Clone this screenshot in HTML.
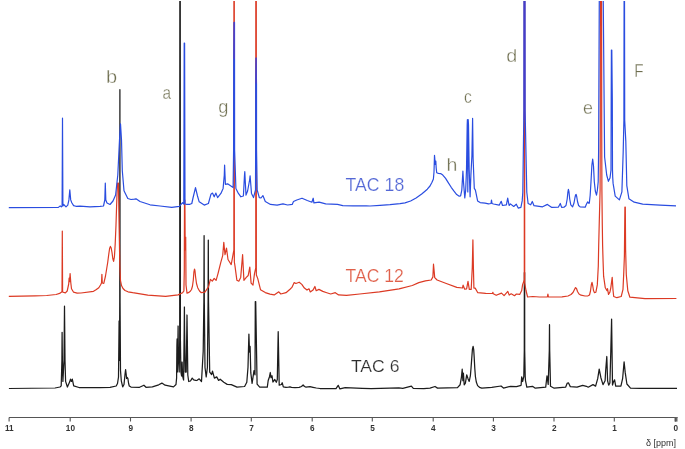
<!DOCTYPE html>
<html><head><meta charset="utf-8"><style>
html,body{margin:0;padding:0;background:#fff;}
body{width:685px;height:449px;overflow:hidden;}
svg{display:block;will-change:transform;}
text{font-family:"Liberation Sans",sans-serif;}
</style></head><body>
<svg width="685" height="449" viewBox="0 0 685 449">
<rect width="685" height="449" fill="#fff"/>
<defs><clipPath id="cp"><rect x="0" y="1" width="685" height="448"/></clipPath></defs>
<g fill="none" stroke-linejoin="round" stroke-linecap="butt" clip-path="url(#cp)">
<polyline points="8.9,388.5 55,388 60,387 61.2,385.9 61.9,360.5 62.1,332.3 62.4,360.5 62.9,381.4 64,360.5 64.5,306.2 65,360.5 65.6,381.4 67.4,387 69.6,382.1 70.5,379.2 71.4,381.4 72.3,379.2 73.7,385.9 79,387.5 100,387.5 110,387.3 116.2,386 117.5,383.5 118.5,377 118.9,340.5 119.1,321 119.3,340.5 119.5,360.5 119.75,300.5 119.9,89.7 120.05,300.5 120.5,370.5 121.3,380.8 122.7,386.9 124,384.5 125,374.5 125.6,369.6 126.2,374.5 126.6,378.5 127.3,377.5 127.9,378.5 128.6,383.5 129.3,386 131,387.1 139.6,387.3 143.9,385.2 146,387.3 152.4,386.9 158.7,384.8 161.9,383.1 165.1,385.2 173.5,386.9 176,384.5 176.6,378 176.9,345.5 177.1,339 177.4,372 177.8,350 178.1,326 178.4,355 179.2,372 179.7,340 179.85,-5 180.25,-5 180.4,340 180.9,372 181.6,376 182.1,362 182.6,376 183.6,380 184.2,330 184.4,307 184.6,330 185.3,372 186.2,372 186.8,330 187,315 187.2,330 187.8,375 188.7,381.5 190.5,381 192.2,378.1 193.7,379.9 195.7,380.4 196.8,380.5 199.2,378.8 201.5,381.5 203.2,351.2 203.9,300.5 204.1,235.5 204.3,300.5 205,367.5 206.2,376.9 207.4,367.5 208.1,300.5 208.3,240.1 208.5,300.5 209.7,372.2 211.6,374.5 212.5,371.1 214.4,378.1 216.7,376.9 218.6,380.4 220.2,379.2 223.8,382.3 227.2,384.4 231.3,384.6 237,387.1 244.6,386.5 246.8,382.3 248,367.2 248.9,334.1 249.5,352.1 250.1,346.4 250.8,372.9 252.1,383.3 253.1,376.7 254,370.6 255,374.8 255.3,301.5 255.7,301.5 257.1,384.2 259.7,387.1 267.3,387.1 268.2,380.5 269.5,376.7 270.3,372.5 271,377.6 272,375.7 272.9,382 274.8,379.5 276.3,382.3 277.3,379.5 278.2,331.7 279.2,385.2 281.4,384.5 282.2,382.7 283.3,386.8 286,387.4 288.5,387.1 290,386.8 291.5,387.4 295,387.6 299.2,387.4 301.5,386.5 303.1,385 304.5,386.5 306,387.1 310,386.7 313,387.3 316.3,388 320,388.5 336,388.6 338.2,385.3 339.9,388.9 345.2,387.6 362.3,388.3 371.3,388.6 398.9,387.9 402.8,388.3 411.4,386.2 413.3,388.3 423.8,388.6 430,388.1 435,386.5 437.5,388.1 457.5,387.6 460.1,384.8 461.4,377.3 462.2,369.2 462.9,380.6 463.4,373.1 464.2,384.8 465.4,383.1 466.7,374.8 468.1,378.9 469.2,381.4 470.4,375.6 471,368.5 471.7,358.9 472.4,349.5 473.1,346.4 473.7,349.5 474.2,357.5 474.8,368.5 475.4,376.5 476.3,382 477.6,385.6 479.5,387.3 481.8,388.1 491.8,387.3 501,386 503.5,388.1 510.7,386.3 516.4,386.6 521.1,385.3 521.7,376.8 522.6,381.5 523.8,376.5 524.3,350.5 524.35,272.5 524.65,272.5 524.7,350.5 525.2,376.5 525.5,380.6 526.8,387.2 532.5,386.3 535.3,388.2 545.7,387.2 547,375.8 548.2,384.4 549.3,350.5 549.5,324.7 549.7,350.5 550.5,386.3 554.2,388.2 565.6,387.2 567.1,383.4 568.4,382.8 570.3,386.6 577,387.2 582.7,385.3 586.4,386.3 588.2,387.2 593,384.6 595.6,386.1 597.7,378.7 599.2,369.2 600.9,377.7 603,384.6 605.1,380.8 605.7,370.3 606.8,356.5 607.6,380.8 608.7,385.1 609.9,383 610.8,351.2 611.6,319.1 612.5,385.1 613.5,381.9 614.6,379.8 615.7,386.1 620.9,386.1 622.6,378.7 624.1,361.8 625.2,372.4 626.9,384 630.5,388.1 640,388.4 677,388.4" stroke="#1c1c1c" stroke-width="1.25"/>
<polyline points="8.8,296.3 35,295.9 46.7,295.5 56.1,294.5 59.6,293.4 61.3,292.2 62,292 62.3,231 62.6,292 63.7,292.4 65.4,292.8 67.2,291 68.7,284 69.1,278.2 69.6,281.7 70.1,273.5 70.8,282.8 71.5,288.7 73.6,292.2 77.1,293.1 81,293 93.5,291.3 96,289.8 98.8,287.7 100.5,285 101.5,283 101.9,274.4 102.3,283 103.8,283.3 105.5,276 106.8,268 107.7,262.5 108.8,254 109.6,248.5 110.4,246.4 111.2,248 112,252.5 112.8,258.5 113.6,261.4 114.4,257 115.2,244 116,225 116.8,200 117.4,183 118.4,183 119.2,230 119.8,265 120.5,280.6 121.5,285.5 123,288.5 125,290.5 128,291.8 132.7,292.7 147.8,295.2 165.6,296.3 178.1,294.9 182.6,292.7 183.9,291 184.3,270 184.5,200 184.9,200 185.2,250 185.4,237 185.7,237 186,285 187,293.1 189,292.4 190.5,291 191.5,289.5 192.5,286 193.3,280 193.9,272 194.5,269 195,271 195.6,277 196.5,283.5 197.7,287.7 199.5,291 201.3,292.7 204.9,292.2 208.5,286.9 210.4,279.3 212.3,281.2 214.2,278.4 216.1,280.3 218,273.6 220.8,262.3 222.7,255.7 223.8,242.4 225,254.7 226.5,248.1 228,259.5 231.2,264.6 232.5,257.6 233.85,250 233.9,-5 234.3,-5 234.35,262 235,266.1 236.9,280.3 238.8,281.2 240.7,277.4 242.6,254.7 243.9,280.3 246.3,277.4 248.2,275.5 249.8,267 251.1,283.1 253,285 254.5,273.6 255.75,268 255.8,-5 256.3,-5 256.35,275 257.7,278.4 260.5,289.7 265.3,292.6 270,294.1 274.2,294.9 278.8,291.8 280.8,294 286,292.7 290,289.2 291.9,287.4 294.2,282.6 295.9,283.5 299.2,282.2 301.8,284.4 304.4,288.1 307,290.1 309,288.8 310.3,292 313,290.1 314.9,286.5 316.2,290.7 318.9,289.4 322.8,291.4 326.8,292.7 330.7,294 335.3,292.7 338.6,294.9 346.5,295.3 359.7,294 379.4,291.8 399.1,288.8 412.3,285.5 418.8,282.6 425.4,280.9 431.2,280 432.9,276.9 433.5,264.2 434.2,271.7 434.7,277.6 437.1,280 446.3,283.5 456.8,287.4 462.5,288 463.1,285.2 464.7,289.2 466.6,288.8 468,281.3 469.3,289.4 471.2,289.4 472.3,267.1 472.9,239.9 473.4,267 473.9,288.1 475.2,288.1 477.8,292.7 485.7,293.4 492.5,293.5 492.9,292.3 493.3,293.8 496.2,295.3 501.5,293.1 504.1,295.7 507.8,291.4 509.2,295.1 511.2,293.8 514.5,295.7 516.4,294 519.7,294.4 521.7,290.5 522.6,284.6 524.3,280 524.35,-5 524.65,-5 524.7,283 526,290.5 527.6,297 532.8,296.5 539.4,297 547.4,296.8 547.9,294.2 548.4,296.8 555,297 562,296.8 568,296 571,294.5 573,292.5 574.5,289.5 575.5,287.6 576.5,288.5 577.5,291.5 579,294 581,295.2 585,296 588,295.8 589.5,295 590.5,291 591.3,285 592,282.3 592.7,285.5 593.5,290.5 594.5,292.7 595.9,292.2 597.3,284.9 598.3,266 598.7,245 599.2,225 600.1,190 600.3,120 600.4,-5 601.6,-5 601.7,120 601.9,190 602.3,225 602.6,245 603.1,262 603.6,276.2 605.3,287.8 607,290.7 607.5,288.6 608.5,294.3 609.9,292.2 610.8,287.8 612.2,277.4 613,290 613.7,296.5 616.9,297.7 621.2,296.5 623,289.3 623.8,271.9 624.4,255.9 624.9,207 625.3,207 625.6,249.4 626.3,274.8 627.8,290.7 629.9,297.2 645,298.6 676.4,298.5" stroke="#dc3a24" stroke-width="1.2"/>
<polyline points="8.8,207.7 58.4,207.4 60.2,205.9 61.3,206.9 62.1,206 62.5,118.2 62.9,206 63.7,204.5 66,206.9 67.8,205.1 68.9,199.9 69.8,189.9 70.7,199.9 71.8,202.8 73.6,205.6 75.9,206.3 80,206.2 90,206.8 100,206.4 103.5,206 104.8,200 105.3,183 105.8,200 107,203 110,204.5 113,201 115.6,195 117.8,175 119.5,140 120.5,123.9 121.5,140 122.3,170.7 124,190.7 127.8,198.5 131,199.5 134.5,199.2 136,198.8 140,201.5 150,204.8 160,206 171.8,207.3 179.3,206.3 182.6,202.6 183.8,204 184.2,43 184.6,43 185,204 186.8,204.3 190,204.3 191.8,203.5 193,198 195.5,187.6 197.5,196 199.2,201.8 204.2,205.1 208.4,203.5 210.9,194.3 212.5,193.1 214.2,196.8 215.9,193.1 217.6,197.6 220.9,193.4 223.1,188.4 224.3,175 224.6,165 225,175 225.4,184.3 227.6,183.8 230.9,186 233.1,187.6 233.6,150 233.7,58.7 234.1,22.3 234.5,22.3 234.6,150 235.9,188.4 238.4,193.4 240.9,196.8 243.4,196 244.5,175 244.8,171.7 245.2,180 246,195.1 247.6,191 249.6,180 250.1,175.9 250.6,182 251.5,193.4 253.5,197.6 255.5,190 255.65,150 255.7,84 256.1,57.9 256.5,84 256.55,150 257.2,190 259.3,197.6 261,198 262.9,195.6 265.3,201.5 270.5,204.4 277.1,205.2 283,203.9 287.6,205 292.2,204.4 293.5,201.5 296.8,200 302,198.2 307.3,200.5 311.9,202.2 313.2,198.2 313.9,202.8 319.1,202.2 325.7,203.9 337.5,204.4 342.8,205.7 353.1,205.9 366.3,205.9 370,206 380,205.3 390,204.7 400,203.7 405,202.9 410.6,201 416.1,197.9 421.7,194 425,191.2 427.3,189.2 430,186 432,182.2 433.4,179 434,172 434.5,155.3 434.9,160 435.2,164.5 435.8,161.1 436.2,168 436.7,172.8 438.4,173.4 440.6,173.6 442.8,175.1 445.6,178.4 448.4,182.9 451.2,187.3 454,191.2 456.7,194.6 459.2,196.2 460.6,195.9 461.8,190.1 462.9,171.2 463.6,183.4 464.8,197.9 465.7,190.1 466.5,170 467.2,125 467.4,119.7 467.7,150 467.8,192 468,150 468.2,119.7 468.5,125 469.2,170 470.1,196.8 470.9,175 471.9,156 472.6,118.4 473.1,158.4 474.3,188.4 475.4,190.1 477.6,200.9 480.1,202.6 485.1,203.1 488.5,203.8 491,203.5 491.5,200.1 492,203.5 493.5,204 499.2,205.2 501.2,201.3 502.5,205.5 506.4,204.8 507.7,198.2 509.1,205.5 510.4,203.9 513.7,206.5 516.3,204.2 518.2,208.1 520.9,207.4 522.2,200.9 522.8,192.3 523.9,110 524.05,-5 524.95,-5 525.1,110 526.8,192.3 528.1,203.5 530.7,204.8 532.3,201.5 534,205.7 542.6,206.8 547.4,204.4 551.8,207.4 558.3,207.2 560.3,203.5 561.6,207.4 564,207.2 566,205.5 567.2,199 567.9,192 568.4,189.3 569,192 569.7,199 570.8,204.8 572.6,206.9 574,203 575,197.5 575.6,194.8 576.1,194.3 576.7,196.5 577.5,201.5 578.6,205.5 580.1,206.9 585.2,207.2 586.5,204 587.7,201.9 588.6,203.2 589.3,203.2 590.2,195 591,181.8 591.9,165 592.7,159.2 593.5,166 594.3,181.8 595.3,191 596.5,195.2 597.4,190 598.2,181.8 598.6,151.7 599.3,-5 603.2,-5 604.6,157 606.7,175 608.4,181.3 610,178 611,170 611.2,99 611.4,50 611.8,50 612.3,99 612.5,170 612.7,177.1 613.1,183.4 615.2,196.1 619.4,199.9 621.9,191.9 623.2,151.7 623.9,120 624.1,-5 624.5,-5 624.7,120 625.8,141.1 626.8,185.6 628.9,198.7 634.2,202.2 642.7,204.2 660,205.1 676,205.8" stroke="#2a4de0" stroke-width="1.2"/>
<g stroke="#5a3cc0" stroke-width="1.3" opacity="0.8">
<line x1="234.2" y1="22.3" x2="234.2" y2="59"/>
<line x1="256.1" y1="57.9" x2="256.1" y2="83.5"/>
</g>
<line x1="524.5" y1="1" x2="524.5" y2="120" stroke="#5038c0" stroke-width="1.8" opacity="0.75"/>
</g>
<g stroke="#555" stroke-width="1.1" fill="none">
<line x1="9" y1="417.5" x2="677.5" y2="417.5"/>
<rect x="674.5" y="417" width="3" height="4.6" fill="#666" stroke="none"/>
<line x1="9.1" y1="417.5" x2="9.1" y2="421.5"/><line x1="70.2" y1="417.5" x2="70.2" y2="421.5"/><line x1="130.5" y1="417.5" x2="130.5" y2="421.5"/><line x1="191.1" y1="417.5" x2="191.1" y2="421.5"/><line x1="251.3" y1="417.5" x2="251.3" y2="421.5"/><line x1="312.2" y1="417.5" x2="312.2" y2="421.5"/><line x1="372.3" y1="417.5" x2="372.3" y2="421.5"/><line x1="433.2" y1="417.5" x2="433.2" y2="421.5"/><line x1="493.4" y1="417.5" x2="493.4" y2="421.5"/><line x1="554" y1="417.5" x2="554" y2="421.5"/><line x1="614.3" y1="417.5" x2="614.3" y2="421.5"/><line x1="675.5" y1="417.5" x2="675.5" y2="421.5"/>
</g>
<g font-size="9.8" fill="#333" font-weight="bold"><text transform="translate(9.3,430.9) scale(0.84,1)" text-anchor="middle">11</text><text transform="translate(70.4,430.9) scale(0.84,1)" text-anchor="middle">10</text><text transform="translate(130.7,430.9) scale(0.84,1)" text-anchor="middle">9</text><text transform="translate(191.3,430.9) scale(0.84,1)" text-anchor="middle">8</text><text transform="translate(251.5,430.9) scale(0.84,1)" text-anchor="middle">7</text><text transform="translate(312.4,430.9) scale(0.84,1)" text-anchor="middle">6</text><text transform="translate(372.5,430.9) scale(0.84,1)" text-anchor="middle">5</text><text transform="translate(433.4,430.9) scale(0.84,1)" text-anchor="middle">4</text><text transform="translate(493.6,430.9) scale(0.84,1)" text-anchor="middle">3</text><text transform="translate(554.2,430.9) scale(0.84,1)" text-anchor="middle">2</text><text transform="translate(614.5,430.9) scale(0.84,1)" text-anchor="middle">1</text><text transform="translate(675.7,430.9) scale(0.84,1)" text-anchor="middle">0</text></g>
<text x="676" y="446" font-size="9" fill="#333" text-anchor="end">δ [ppm]</text>
<text transform="translate(106.0,82.8) scale(1.074,1)" font-size="18.63" fill="#6e6e4f" stroke="#fff" stroke-width="0.35">b</text><text transform="translate(162.38,98.62) scale(0.846,1)" font-size="18.18" fill="#6e6e4f" stroke="#fff" stroke-width="0.35">a</text><text transform="translate(218.37,113.33) scale(1.014,1)" font-size="17.97" fill="#6e6e4f" stroke="#fff" stroke-width="0.35">g</text><text transform="translate(464.08,103.03) scale(0.893,1)" font-size="17.45" fill="#6e6e4f" stroke="#fff" stroke-width="0.35">c</text><text transform="translate(506.21,61.82) scale(1.1,1)" font-size="17.97" fill="#6e6e4f" stroke="#fff" stroke-width="0.35">d</text><text transform="translate(582.89,113.81) scale(0.945,1)" font-size="18.91" fill="#6e6e4f" stroke="#fff" stroke-width="0.35">e</text><text transform="translate(634.28,77.1) scale(0.859,1)" font-size="17.83" fill="#6e6e4f" stroke="#fff" stroke-width="0.35">F</text><text transform="translate(446.53,171.09) scale(1.034,1)" font-size="18.89" fill="#6e6e4f" stroke="#fff" stroke-width="0.35">h</text>
<text transform="translate(345.55,191.02) scale(0.997,1)" font-size="17.75" fill="#5468d6" stroke="#fff" stroke-width="0.2">TAC 18</text>
<text transform="translate(345.55,281.63) scale(1.008,1)" font-size="17.46" fill="#e0604a" stroke="#fff" stroke-width="0.2">TAC 12</text>
<text transform="translate(350.95,371.53) scale(1.023,1)" font-size="17.18" fill="#2e2e2e" stroke="#fff" stroke-width="0.2">TAC 6</text>
</svg>
</body></html>
